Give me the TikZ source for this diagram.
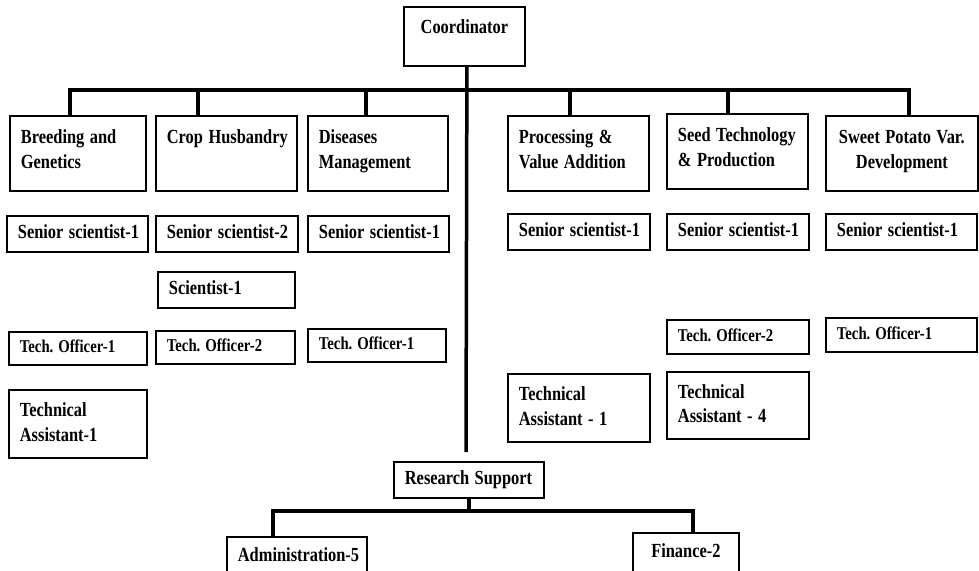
\documentclass[tikz,border=0pt]{standalone}
\usepackage{fontspec}
\usepackage{graphicx}
\setmainfont{Liberation Serif}
\frenchspacing
\newcommand{\cellt}[1]{\scalebox{0.82}[1]{\begin{tabular}[t]{@{}l@{}}#1\end{tabular}}}
\newcommand{\cellc}[1]{\scalebox{0.82}[1]{\begin{tabular}[t]{@{}c@{}}#1\end{tabular}}}
\tikzset{
  unit/.style={draw,line width=1.8pt,anchor=north west,inner xsep=11pt,inner ysep=0pt,
    align=left,minimum height=36pt,font=\bfseries\fontsize{20}{24.5}\selectfont},
  head/.style={unit,text height=28pt,text depth=47pt},
  officer/.style={unit,minimum height=33pt,font=\bfseries\fontsize{18}{22}\selectfont},
  link/.style={line width=3.5pt},
}
\begin{document}
\begin{tikzpicture}[x=1pt,y=-1pt]
\path[use as bounding box,fill=white] (0,0) rectangle (979,570);
\node[unit,align=center,text width=99pt,text height=27pt,text depth=32pt] (coord) at (403,6) {\cellc{Coordinator}};
% sections
\node[head,text width=114pt] (breed) at (9,115) {\cellt{Breeding and\\Genetics}};
\node[head,text width=119pt] (crop) at (155,115) {\cellt{Crop Husbandry}};
\node[head,text width=118pt] (disease) at (307,115) {\cellt{Diseases\\Management}};
\node[head,text width=119pt] (proc) at (507,115) {\cellt{Processing \&\\Value Addition}};
\node[head,text width=119pt] (seed) at (666,113) {\cellt{Seed Technology\\\& Production}};
\node[head,align=center,text width=130pt] (sweet) at (825,115) {\cellc{Sweet Potato Var.\\Development}};
% staff
\node[unit,text width=119pt] (ss1) at (6,215) {\cellt{Senior scientist-1}};
\node[unit,text width=120pt] (ss2) at (155,215) {\cellt{Senior scientist-2}};
\node[unit,text width=119pt] (ss3) at (307,215) {\cellt{Senior scientist-1}};
\node[unit,text width=120pt] (ss4) at (507,213) {\cellt{Senior scientist-1}};
\node[unit,text width=120pt] (ss5) at (666,213) {\cellt{Senior scientist-1}};
\node[unit,text width=129pt] (ss6) at (825,213) {\cellt{Senior scientist-1}};
\node[unit,text width=115pt] (sci) at (157,271) {\cellt{Scientist-1}};
\node[officer,text width=116pt] (to1) at (8,331) {\cellt{Tech. Officer-1}};
\node[officer,text width=117pt] (to2) at (155,330) {\cellt{Tech. Officer-2}};
\node[officer,text width=116pt] (to3) at (307,328) {\cellt{Tech. Officer-1}};
\node[officer,minimum height=34pt,text width=120pt] (to5) at (666,319) {\cellt{Tech. Officer-2}};
\node[officer,minimum height=34pt,text width=129pt] (to6) at (825,317) {\cellt{Tech. Officer-1}};
\node[unit,minimum height=68pt,text width=116pt] (ta1) at (8,389) {\cellt{Technical\\Assistant-1}};
\node[unit,minimum height=68pt,text width=120pt] (ta4) at (507,373) {\cellt{Technical\\Assistant - 1}};
\node[unit,minimum height=67pt,text width=120pt] (ta5) at (666,371) {\cellt{Technical\\Assistant - 4}};
% support
\node[unit,text width=128pt] (rs) at (393,461) {\cellt{Research Support}};
\node[unit,minimum height=40pt,text width=118pt] (admin) at (226,536) {\cellt{Administration-5}};
\node[unit,minimum height=40pt,align=center,text width=84pt] (fin) at (632,532) {\cellc{Finance-2}};
\coordinate (bus) at (466,90);
\coordinate (rsgap) at (466,452);
\coordinate (rsbus) at (467,511);
\draw[link] ([xshift=2.5pt]coord.south) -- (rsgap);
\draw[link] ([xshift=-8pt]breed.north) |- (bus) -| ([xshift=7pt]sweet.north);
\foreach \n/\dx in {crop/-28.5,disease/-12,proc/-8.5,seed/-9.5}
  \draw[link] ([xshift=\dx pt]\n.north) |- (bus);
\draw[link] (rs.south) -- (rs.south |- rsbus);
\draw[link] ([xshift=-24pt]admin.north) |- (rsbus) -| ([xshift=7pt]fin.north);
\end{tikzpicture}
\end{document}
